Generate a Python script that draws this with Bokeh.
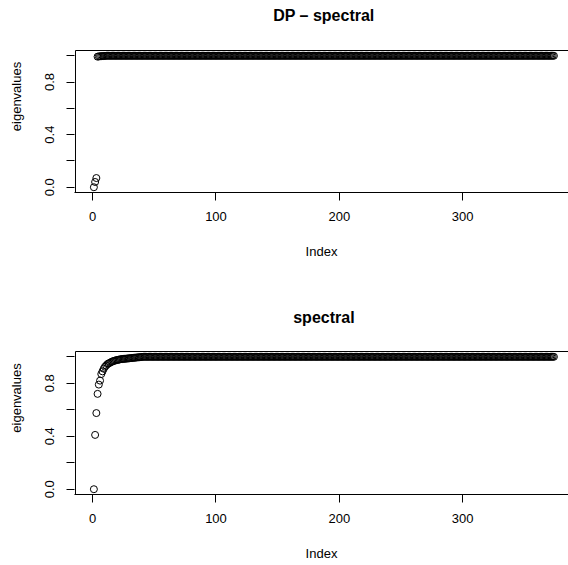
from bokeh.plotting import figure
from bokeh.models import FixedTicker, Range1d, Label
from bokeh.layouts import column
from bokeh.embed import file_html
from bokeh.resources import INLINE

# ---- data ----
n_points = 374
dp_head = [0.0, 0.04, 0.07, 0.993, 0.995, 0.996, 0.997, 0.998, 0.998, 0.999]
dp_tail_value = 1.0
spec_head = [0.0, 0.41, 0.575, 0.72, 0.79, 0.82, 0.87, 0.89, 0.91, 0.925,
             0.935, 0.945, 0.95, 0.955, 0.96, 0.965, 0.968, 0.971, 0.974, 0.976,
             0.978, 0.98, 0.982, 0.983, 0.984, 0.985, 0.986, 0.987, 0.988, 0.989,
             0.99, 0.991, 0.992, 0.993, 0.994, 0.995, 0.996, 0.997, 0.998, 0.999]
spec_tail_value = 1.0
titles = ["DP \u2013 spectral", "spectral"]
x_ticks = [0, 100, 200, 300]
y_ticks = [0.0, 0.2, 0.4, 0.6, 0.8, 1.0]
y_tick_labels = {0.0: "0.0", 0.2: "", 0.4: "0.4", 0.6: "", 0.8: "0.8", 1.0: ""}

dp_vals = dp_head + [dp_tail_value] * (n_points - len(dp_head))
spec_vals = spec_head + [spec_tail_value] * (n_points - len(spec_head))
index = list(range(1, n_points + 1))

FONT = "Liberation Sans"

# R-style plot box: data range extended by 4 % on each side
x_lo = 1 - 0.04 * (n_points - 1)
x_hi = n_points + 0.04 * (n_points - 1)


def make_panel(title, yvals, height, bottom, box_px, title_px):
    y_min, y_max = min(yvals), max(yvals)
    y_lo = y_min - 0.04 * (y_max - y_min)
    y_hi = y_max + 0.04 * (y_max - y_min)
    frame_px = height - bottom
    k = box_px / (y_hi - y_lo)          # pixels per unit on y
    y_top = y_lo + frame_px / k         # frame extends above the box to hold the title
    x_start = x_lo - 0.8
    x_end = x_start + 494 / 1.2333

    p = figure(width=568, height=height, output_backend="svg", toolbar_location=None,
               x_range=Range1d(x_start, x_end), y_range=Range1d(y_lo, y_top),
               min_border_left=74, min_border_right=0,
               min_border_top=0, min_border_bottom=bottom,
               x_axis_label="Index", y_axis_label="eigenvalues")
    p.grid.visible = False
    p.outline_line_color = None
    p.background_fill_color = "white"
    p.border_fill_color = "white"

    # box (left and top edges; bottom edge is the x axis line)
    p.segment(x0=[x_lo, x_lo], y0=[y_lo, y_hi], x1=[x_lo, x_end + 50], y1=[y_hi, y_hi],
              line_color="black", line_width=1)

    p.scatter(index, yvals, size=7, marker="circle", fill_color=None,
              line_color="black", line_width=1)

    xa = p.xaxis[0]
    xa.ticker = FixedTicker(ticks=x_ticks)
    ya = p.yaxis[0]
    ya.ticker = FixedTicker(ticks=y_ticks)
    ya.major_label_overrides = y_tick_labels
    ya.major_label_orientation = "parallel"
    for ax in (xa, ya):
        ax.minor_tick_line_color = None
        ax.major_tick_in = 0
        ax.major_tick_out = 8
        ax.major_tick_line_color = "black"
        ax.major_label_text_font = FONT
        ax.major_label_text_font_size = "13px"
        ax.major_label_text_color = "black"
        ax.axis_label_text_font = FONT
        ax.axis_label_text_font_size = "13px"
        ax.axis_label_text_font_style = "normal"
        ax.axis_label_text_color = "black"
    xa.axis_line_color = "black"
    ya.axis_line_color = None
    xa.major_label_standoff = 11
    xa.axis_label_standoff = 20
    ya.major_label_standoff = 12
    ya.axis_label_standoff = 19

    p.add_layout(Label(x=(x_lo + x_hi) / 2, y=y_top - title_px / k, text=title,
                       text_align="center", text_baseline="middle", text_font=FONT,
                       text_font_size="16px", text_font_style="bold", text_color="black"))
    return p


p1 = make_panel(titles[0], dp_vals, 301, 109, 142, 15)
p2 = make_panel(titles[1], spec_vals, 264, 71, 143, 16)

layout = column(p1, p2, spacing=0)
open("out.html", "w").write(file_html(layout, INLINE))
